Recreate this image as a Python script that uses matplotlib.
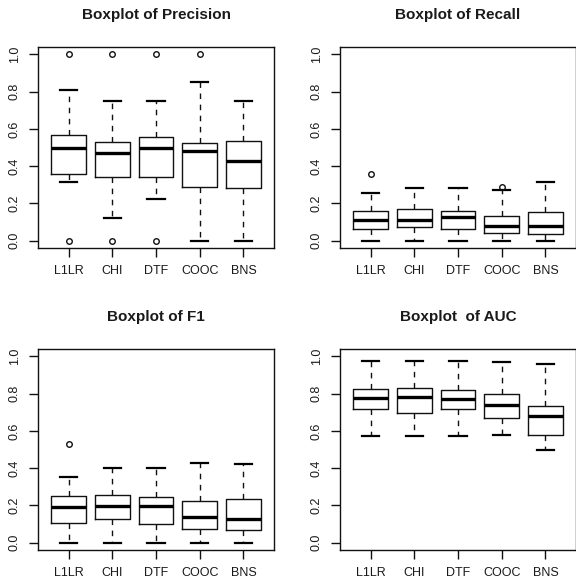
#!/usr/bin/env python3
"""Four R-style boxplots: precision, recall, F1 and AUC per feature selector."""

import matplotlib

matplotlib.use("Agg")
import matplotlib.pyplot as plt

METHODS = ["L1LR", "CHI", "DTF", "COOC", "BNS"]

# five-number summaries: low whisker, q1, median, q3, high whisker
PREC_LO = [0.316, 0.123, 0.221, 0.0, 0.0]
PREC_Q1 = [0.357, 0.339, 0.344, 0.289, 0.280]
PREC_MED = [0.500, 0.469, 0.500, 0.481, 0.428]
PREC_Q3 = [0.567, 0.530, 0.558, 0.522, 0.535]
PREC_HI = [0.807, 0.750, 0.750, 0.852, 0.750]
PREC_OUT = [[0.0, 1.0], [0.0, 1.0], [0.0, 1.0], [1.0], []]

REC_LO = [0.0, 0.0, 0.0, 0.0, 0.0]
REC_Q1 = [0.061, 0.074, 0.061, 0.041, 0.036]
REC_MED = [0.113, 0.113, 0.125, 0.077, 0.077]
REC_Q3 = [0.158, 0.170, 0.160, 0.134, 0.154]
REC_HI = [0.258, 0.283, 0.283, 0.269, 0.314]
REC_OUT = [[0.358], [], [], [0.290], []]

F1_LO = [0.0, 0.0, 0.0, 0.0, 0.0]
F1_Q1 = [0.106, 0.124, 0.102, 0.074, 0.067]
F1_MED = [0.191, 0.194, 0.194, 0.135, 0.129]
F1_Q3 = [0.248, 0.257, 0.243, 0.223, 0.234]
F1_HI = [0.351, 0.401, 0.401, 0.430, 0.424]
F1_OUT = [[0.529], [], [], [], []]

AUC_LO = [0.570, 0.570, 0.570, 0.579, 0.500]
AUC_Q1 = [0.716, 0.698, 0.719, 0.671, 0.579]
AUC_MED = [0.777, 0.784, 0.773, 0.741, 0.682]
AUC_Q3 = [0.827, 0.833, 0.822, 0.799, 0.734]
AUC_HI = [0.973, 0.973, 0.973, 0.968, 0.962]
AUC_OUT = [[], [], [], [], []]

PANELS = [
    ("Boxplot of Precision", PREC_LO, PREC_Q1, PREC_MED, PREC_Q3, PREC_HI, PREC_OUT),
    ("Boxplot of Recall", REC_LO, REC_Q1, REC_MED, REC_Q3, REC_HI, REC_OUT),
    ("Boxplot of F1", F1_LO, F1_Q1, F1_MED, F1_Q3, F1_HI, F1_OUT),
    ("Boxplot  of AUC", AUC_LO, AUC_Q1, AUC_MED, AUC_Q3, AUC_HI, AUC_OUT),
]

W, H = 576, 580
# axes boxes in pixels: left, top, right, bottom
BOXES = [(38, 47, 274, 248), (340, 47, 576, 248), (38, 349, 274, 550), (340, 349, 576, 550)]

TEXT = "#1a1a1a"

plt.rcParams.update(
    {
        "font.family": ["Liberation Sans", "DejaVu Sans"],
        "font.size": 9,
        "axes.linewidth": 1.0,
        "axes.edgecolor": "#111111",
        "xtick.color": "#111111",
        "ytick.color": "#111111",
        "xtick.labelcolor": TEXT,
        "ytick.labelcolor": TEXT,
    }
)

fig = plt.figure(figsize=(W / 100, H / 100), dpi=100)

for (title, lo, q1, med, q3, hi, out), (x0, y0, x1, y1) in zip(PANELS, BOXES):
    ax = fig.add_axes([x0 / W, 1 - y1 / H, (x1 - x0) / W, (y1 - y0) / H])
    stats = [
        {"whislo": a, "q1": b, "med": c, "q3": d, "whishi": e, "fliers": f}
        for a, b, c, d, e, f in zip(lo, q1, med, q3, hi, out)
    ]
    ax.bxp(
        stats,
        positions=range(1, len(METHODS) + 1),
        widths=0.8,
        capwidths=0.4,
        showfliers=True,
        boxprops={"color": "#111111", "linewidth": 1.0},
        medianprops={"color": "black", "linewidth": 2.4, "solid_capstyle": "butt"},
        whiskerprops={"color": "#111111", "linewidth": 1.0, "linestyle": (0, (4, 4))},
        capprops={"color": "black", "linewidth": 1.6},
        flierprops={
            "marker": "o",
            "markersize": 4,
            "markerfacecolor": "none",
            "markeredgecolor": "#111111",
            "markeredgewidth": 1.0,
        },
    )
    ax.set_xlim(0.3, 5.7)
    ax.set_ylim(-0.04, 1.04)
    ax.set_yticks([0.0, 0.2, 0.4, 0.6, 0.8, 1.0])
    ax.set_yticklabels(["0.0", "0.2", "0.4", "0.6", "0.8", "1.0"])
    ax.set_xticks(range(1, len(METHODS) + 1))
    ax.set_xticklabels(METHODS)
    ax.tick_params(axis="both", direction="out", length=6.5, width=1.0)
    ax.tick_params(axis="x", pad=6)
    ax.tick_params(axis="y", pad=6, labelrotation=90)
    for lbl in ax.get_yticklabels():
        lbl.set_va("center")
    ax.text(
        0.5,
        1 + 32 / (y1 - y0),
        title,
        transform=ax.transAxes,
        ha="center",
        va="center",
        fontsize=11,
        fontweight="bold",
        color=TEXT,
    )

fig.savefig("out.png", dpi=100)
plt.close(fig)
